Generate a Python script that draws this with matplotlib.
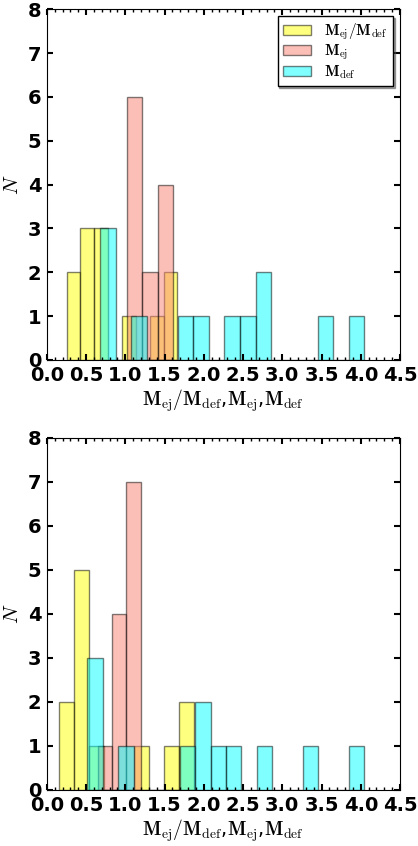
#Two stacked histograms of ejecta mass, deflagration mass and their ratio
import numpy as np
import matplotlib
matplotlib.use("Agg")
import matplotlib.pyplot as plt
from matplotlib.ticker import MultipleLocator

# each histogram: (first edge, last edge) and the counts per bin
top_ratio_range = (0.251, 1.664)
top_ratio_counts = [2, 3, 3, 0, 1, 0, 1, 2]
top_mej_range = (1.020, 1.606)
top_mej_counts = [6, 2, 4]
top_mdef_range = (0.680, 4.045)
top_mdef_counts = [3, 0, 1, 0, 0, 1, 1, 0, 1, 1, 2, 0, 0, 0, 1, 0, 1]

bot_ratio_range = (0.157, 1.878)
bot_ratio_counts = [2, 5, 1, 0, 0, 1, 0, 1, 2]
bot_mej_range = (0.651, 1.195)
bot_mej_counts = [1, 4, 7]
bot_mdef_range = (0.518, 4.045)
bot_mdef_counts = [3, 0, 1, 0, 0, 0, 1, 2, 1, 1, 0, 1, 0, 0, 1, 0, 0, 1]

labels = [r"$\mathbf{M}_{\rm ej}/\mathbf{M}_{\rm def}$",
          r"$\mathbf{M}_{\rm ej}$",
          r"$\mathbf{M}_{\rm def}$"]
colors = ["yellow", "salmon", "cyan"]
xticks = np.arange(0, 4.51, 0.5)

plt.rcParams["mathtext.fontset"] = "cm"


def draw_hist(ax, rng, counts, color, label):
    edges = np.linspace(rng[0], rng[1], len(counts) + 1)
    ax.bar(edges[:-1], counts, width=np.diff(edges), align="edge",
           color=color, edgecolor="black", linewidth=1, alpha=0.5, label=label)


def style_axes(ax):
    ax.set_xlim(0, 4.5)
    ax.set_ylim(0, 8)
    ax.set_xticks(xticks)
    ax.set_yticks(range(0, 9))
    ax.xaxis.set_minor_locator(MultipleLocator(0.1))
    ax.tick_params(which="both", direction="in", top=True, right=True)
    ax.tick_params(which="major", length=4, width=1.5, labelsize=14, pad=4)
    ax.tick_params(which="minor", length=2.5, width=1)
    for lab in ax.get_xticklabels() + ax.get_yticklabels():
        lab.set_fontweight("bold")
    ax.set_xlabel(r"$\mathbf{M}_{\rm ej}/\mathbf{M}_{\rm def}$,"
                  r"$\mathbf{M}_{\rm ej}$,$\mathbf{M}_{\rm def}$", fontsize=14,
                  labelpad=2)
    ax.set_ylabel(r"$N$", fontsize=15)


def main():
    fig = plt.figure(figsize=(4.18, 8.46), dpi=100)
    ax1 = fig.add_axes([0.112, 0.5745, 0.845, 0.4145])
    ax2 = fig.add_axes([0.112, 0.0662, 0.845, 0.4161])

    draw_hist(ax1, top_ratio_range, top_ratio_counts, colors[0], labels[0])
    draw_hist(ax1, top_mej_range, top_mej_counts, colors[1], labels[1])
    draw_hist(ax1, top_mdef_range, top_mdef_counts, colors[2], labels[2])

    draw_hist(ax2, bot_ratio_range, bot_ratio_counts, colors[0], labels[0])
    draw_hist(ax2, bot_mej_range, bot_mej_counts, colors[1], labels[1])
    draw_hist(ax2, bot_mdef_range, bot_mdef_counts, colors[2], labels[2])

    style_axes(ax1)
    style_axes(ax2)

    ax1.legend(loc="upper right", fontsize=11,
               shadow={"ox": 1.2, "oy": -1.2}, fancybox=False,
               framealpha=1, edgecolor="black", handlelength=1.8,
               handleheight=0.6, handletextpad=0.9, labelspacing=0.05,
               borderpad=0.35, borderaxespad=0.45)

    fig.savefig("out.png", dpi=100)


if __name__ == "__main__":
    main()
